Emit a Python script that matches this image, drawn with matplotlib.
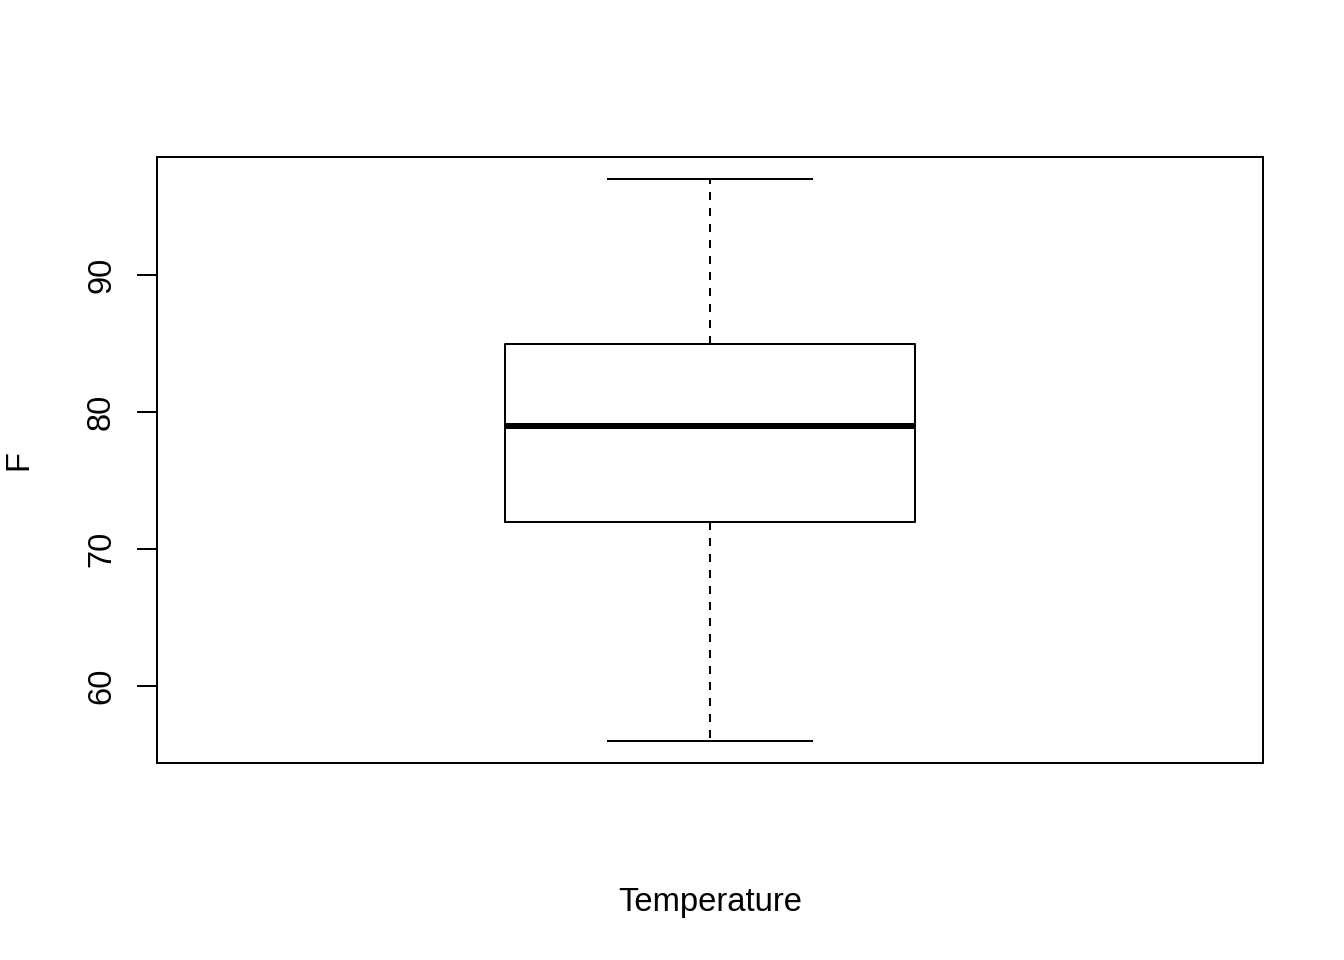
import matplotlib
matplotlib.use("Agg")
import matplotlib.pyplot as plt

# Data (five-number summary of Temperature)
label = "Temperature"
t_min = 56
t_q1 = 72
t_med = 79
t_q3 = 85
t_max = 97
yticks = [60, 70, 80, 90]

plt.rcParams['font.family'] = ['Liberation Sans', 'DejaVu Sans']

fig = plt.figure(figsize=(7, 5), dpi=192)
ax = fig.add_axes([157/1344, 1-763/960, (1263-157)/1344, (763-157)/960])

stats = [dict(med=t_med, q1=t_q1, q3=t_q3, whislo=t_min, whishi=t_max, fliers=[], label=label)]
lw = 0.75
ax.bxp(stats, positions=[1], widths=0.4, capwidths=0.2, showfliers=False,
       boxprops=dict(color='black', linewidth=lw),
       medianprops=dict(color='black', linewidth=2.25, solid_capstyle='butt'),
       whiskerprops=dict(color='black', linewidth=lw, linestyle=(0, (4, 4))),
       capprops=dict(color='black', linewidth=lw))

rng = t_max - t_min
ax.set_ylim(t_min - 0.04*rng, t_max + 0.04*rng)
ax.set_xlim(0.46, 1.54)
ax.set_yticks(yticks)
ax.set_xticks([])
for s in ax.spines.values():
    s.set_linewidth(lw)
ax.tick_params(axis='y', length=7.5, width=lw, pad=7.5, labelsize=12.3, labelrotation=90)
for t in ax.get_yticklabels():
    t.set_va('center')

ax.set_ylabel("F", fontsize=12.3)
ax.yaxis.set_label_coords(-0.111, 0.5)
ax.set_xlabel(label, fontsize=12.3, va='top')
ax.xaxis.set_label_coords(0.5, -0.205)

fig.savefig("out.png", dpi=192)
